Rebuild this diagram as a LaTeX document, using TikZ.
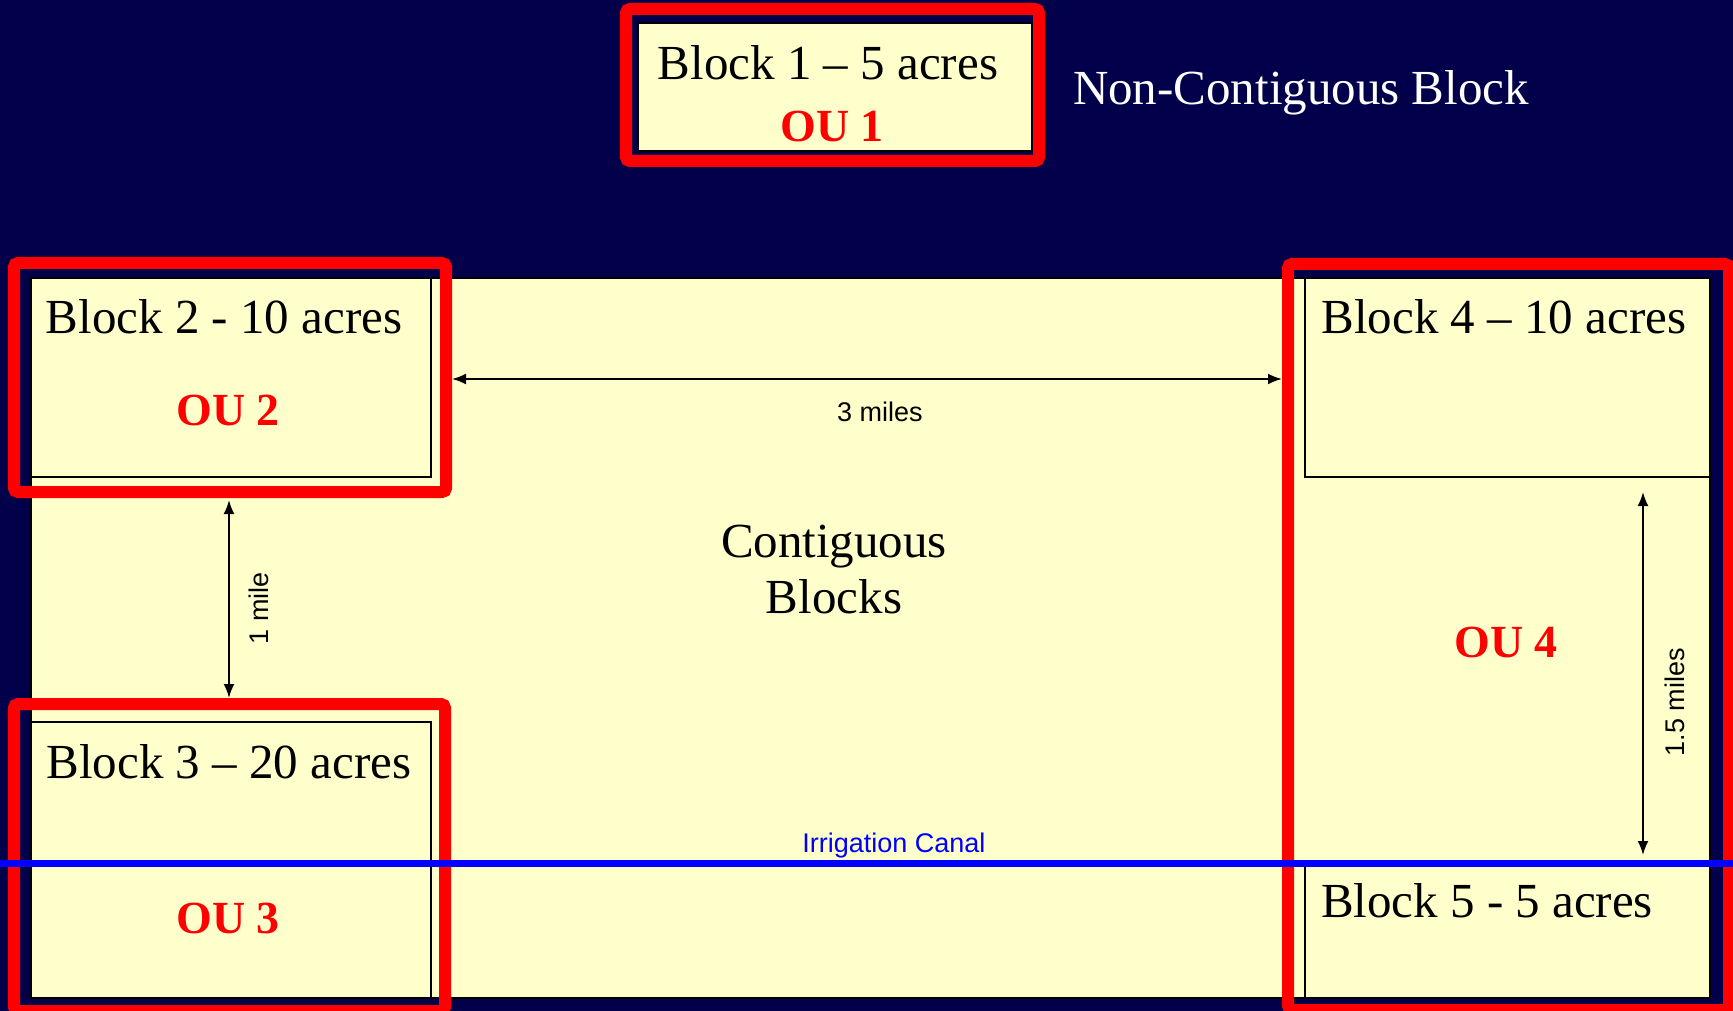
\documentclass[tikz,border=0pt]{standalone}
\usepackage{fontspec}
\setmainfont{Liberation Serif}
\newfontfamily\arialfont{Liberation Sans}
\usetikzlibrary{arrows.meta}
\definecolor{navybg}{RGB}{3,0,75}
\definecolor{paleyel}{RGB}{255,255,204}
\definecolor{oured}{RGB}{255,0,0}
\definecolor{canalblue}{RGB}{0,0,255}
\tikzset{
  blockbox/.style={draw=black, line width=2pt, fill=paleyel},
  oubox/.style={draw=oured, line width=12pt, rounded corners=4pt},
  blocklabel/.style={anchor=base, inner sep=0pt, font=\fontsize{49}{56}\selectfont},
  oulabel/.style={anchor=base, inner sep=0pt, text=oured, font=\fontsize{46}{52}\selectfont\bfseries},
  dimlabel/.style={inner sep=0pt, font=\arialfont\fontsize{27}{30}\selectfont},
  dimarrow/.style={line width=2pt, {Latex[length=14pt,width=11pt]}-{Latex[length=14pt,width=11pt]}},
}
\begin{document}
\begin{tikzpicture}[x=1pt,y=-1pt]
\useasboundingbox (0,0) rectangle (1733,1011);
\fill[navybg] (0,0) rectangle (1733,1011);
% contiguous area
\draw[blockbox] (31,278) rectangle (1710,998);
% blocks
\draw[blockbox] (638,23) rectangle (1032,151);
\draw[blockbox] (31,278) rectangle (431,477);
\draw[blockbox] (31,722) rectangle (431,998);
\draw[blockbox] (1305,278) rectangle (1710,477);
\draw[blockbox] (1305,863) rectangle (1710,998);
% OU boxes
\draw[oubox] (626,9) rectangle (1039,161);
\draw[oubox] (14,263) rectangle (446,492);
\draw[oubox] (14,704) rectangle (445,1011);
\draw[oubox] (1288,264) rectangle (1729,1010);
% canal
\draw[canalblue, line width=7pt] (0,863) -- (1733,863);
% texts
\node[blocklabel] (b1) at (828,80) {Block 1 – 5 acres};
\node[oulabel] (ou1) at (832,142) {OU 1};
\node[blocklabel, text=white] (nc) at (1301,105) {Non-Contiguous Block};
\node[blocklabel] (b2) at (224,334) {Block 2 - 10 acres};
\node[oulabel] (ou2) at (228,425) {OU 2};
\node[blocklabel] (b3) at (229,778) {Block 3 – 20 acres};
\node[oulabel] (ou3) at (228,933) {OU 3};
\node[blocklabel] (b4) at (1504,334) {Block 4 – 10 acres};
\node[blocklabel] (b5) at (1487,917) {Block 5 - 5 acres};
\node[oulabel] (ou4) at (1506,657) {OU 4};
\node[blocklabel] (cont1) at (834,557) {Contiguous};
\node[blocklabel] (cont2) at (834,613) {Blocks};
\node[dimlabel, anchor=base, text=canalblue] (canal) at (894,852) {Irrigation Canal};
% dimension arrows
\coordinate (h1) at (452,379);
\coordinate (h2) at (1282,379);
\coordinate (v1a) at (229,500);
\coordinate (v1b) at (229,698);
\coordinate (v2a) at (1643,492);
\coordinate (v2b) at (1643,855);
\draw[dimarrow] (h1) -- (h2);
\draw[dimarrow] (v1a) -- (v1b);
\draw[dimarrow] (v2a) -- (v2b);
\node[dimlabel, anchor=base] (l3) at (880,421) {3 miles};
\node[dimlabel, rotate=90] (l1) at (259,608) {1 mile};
\node[dimlabel, rotate=90] (l15) at (1675,702) {1.5 miles};
\end{tikzpicture}
\end{document}
